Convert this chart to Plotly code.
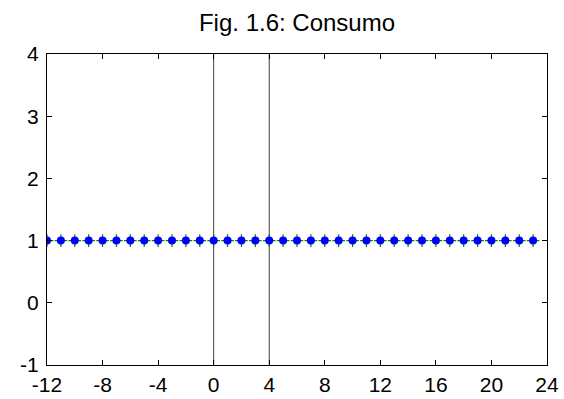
import plotly.graph_objects as go

x_vals = list(range(-12, 24))
y_vals = [1] * len(x_vals)
vlines_x = [0, 4]
x_ticks = [-12, -8, -4, 0, 4, 8, 12, 16, 20, 24]
y_ticks = [-1, 0, 1, 2, 3, 4]
title = "Fig. 1.6: Consumo"

fig = go.Figure()
for vx in vlines_x:
    fig.add_trace(go.Scatter(x=[vx, vx], y=[-1, 4], mode="lines",
                             line=dict(color="#404040", width=1), showlegend=False, hoverinfo="skip"))
fig.add_trace(go.Scatter(x=x_vals, y=y_vals, mode="markers",
                         marker=dict(symbol="cross-thin", size=9, line=dict(color="#008000", width=1.2)),
                         showlegend=False))
fig.add_trace(go.Scatter(x=x_vals, y=y_vals, mode="markers",
                         marker=dict(color="#0000ff", size=8, line=dict(width=0)),
                         showlegend=False))

axis_common = dict(showgrid=False, zeroline=False, showline=True, linecolor="black", linewidth=1,
                   mirror="ticks", ticks="inside", ticklen=5, tickcolor="black", automargin=False,
                   tickfont=dict(family="Liberation Sans, Arial", size=21, color="black"))
fig.update_xaxes(range=[-12, 24], tickvals=x_ticks, ticktext=[str(v) for v in x_ticks],
                 ticklabelstandoff=1, **axis_common)
fig.update_yaxes(range=[-1, 4], tickvals=y_ticks, ticktext=[str(v) for v in y_ticks],
                 ticklabelstandoff=3, **axis_common)

fig.update_layout(
    width=564, height=399,
    margin=dict(l=47, r=17, t=54, b=34),
    paper_bgcolor="white", plot_bgcolor="white",
    title=dict(text=title, x=(47 + 547) / 2 / 564, xanchor="center", y=1 - 23 / 399, yanchor="middle",
               font=dict(family="Liberation Sans, Arial", size=24, color="black")),
)
fig.write_html("out.html")
